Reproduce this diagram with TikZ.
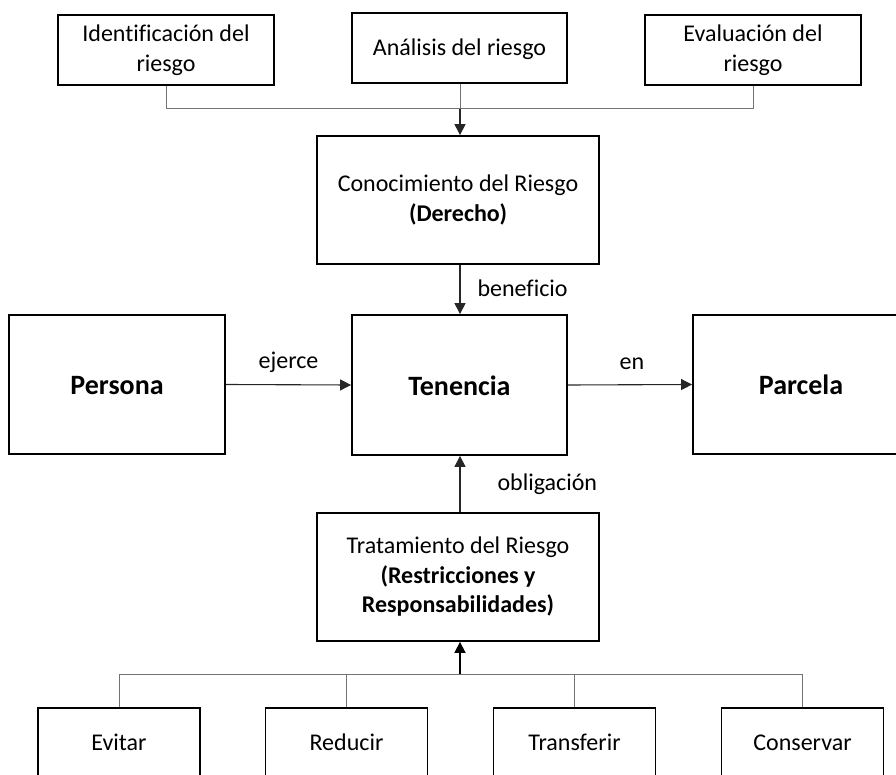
\documentclass[tikz,border=0pt]{standalone}
\usepackage{fontspec}
\setmainfont{Carlito}[Ligatures=NoCommon]
\usetikzlibrary{arrows.meta}

\begin{document}
\begin{tikzpicture}[x=1pt,y=-1pt,
  box/.style={draw=black, line width=1.8pt, align=center, inner sep=0pt,
    font=\fontsize{24}{29.5}\selectfont},
  oneline/.style={text height=16pt, text depth=1pt},
  smallbox/.style={box, minimum width=216pt, minimum height=70pt},
  midbox/.style={box, minimum width=282pt, minimum height=128pt},
  bigbox/.style={box, minimum width=216pt, minimum height=139pt,
    text height=20pt, text depth=0pt,
    font=\fontsize{28}{34}\selectfont\bfseries},
  leafbox/.style={box, oneline, minimum width=162pt, minimum height=70pt},
  conn/.style={draw=black!55, line width=1pt},
  arr/.style={draw=black!85, line width=1.1pt,
    -{Triangle[length=11pt,width=11pt]}},
  lbl/.style={font=\fontsize{24}{29}\selectfont, inner sep=0pt, oneline}
]
\clip (0,0) rectangle (896,775);

% top row: stages of risk assessment
\node[smallbox] (ident) at (166,50) {Identificación del\\riesgo};
\node[smallbox, oneline, minimum width=215pt] (anal) at (459.5,48) {Análisis del riesgo};
\node[smallbox] (eval) at (753,50) {Evaluación del\\riesgo};

% knowledge box
\node[midbox] (conoc) at (458,200) {Conocimiento del Riesgo\\\textbf{(Derecho)}};

% central row
\node[bigbox] (pers) at (117,384.5) {Persona};
\node[bigbox, minimum width=215pt, minimum height=140pt] (ten) at (459.5,385) {Tenencia};
\node[bigbox] (parc) at (801,384.5) {Parcela};

% treatment box
\node[midbox] (trat) at (458,577) {Tratamiento del Riesgo\\\textbf{(Restricciones y}\\\textbf{Responsabilidades)}};

% bottom row: treatment options
\node[leafbox] (evit) at (119,743) {Evitar};
\node[leafbox] (redu) at (346.5,743) {Reducir};
\node[leafbox] (tran) at (574.5,743) {Transferir};
\node[leafbox] (cons) at (802.5,743) {Conservar};

% junction points
\coordinate (jtop) at (460,109);
\coordinate (jbot) at (460,674);

% top tree into the knowledge box
\draw[conn] (ident.south) |- (eval.south |- jtop) -- (eval.south);
\draw[conn] (anal.south -| jtop) -- (jtop);
\draw[arr] (jtop) -- (jtop |- conoc.north);

% vertical relations around Tenencia
\draw[arr] (conoc.south -| jtop) -- (jtop |- ten.north)
  node[lbl, pos=0.5, anchor=west, xshift=17pt] (lben) {beneficio};
\draw[arr] (trat.north -| jtop) -- (jtop |- ten.south)
  node[lbl, pos=0.5, anchor=west, xshift=37pt, yshift=1pt] (lobl) {obligación};

% horizontal relations
\draw[arr] (pers.east) -- (ten.west)
  node[lbl, pos=0.5, yshift=23.5pt] (lejr) {ejerce};
\draw[arr] (ten.east) -- (parc.west)
  node[lbl, pos=0.5, yshift=22.5pt, xshift=2pt] (len) {en};

% bottom tree into the treatment box
\draw[conn] (evit.north) |- (cons.north |- jbot) -- (cons.north);
\draw[conn] (redu.north) -- (redu.north |- jbot);
\draw[conn] (tran.north) -- (tran.north |- jbot);
\draw[arr, line width=1.6pt, draw=black] (jbot) -- (jbot |- trat.south);
\end{tikzpicture}
\end{document}
